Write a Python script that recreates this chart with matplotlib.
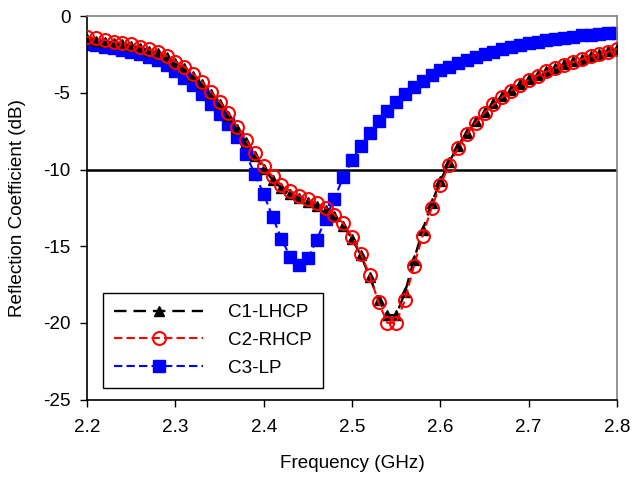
import numpy as np
import matplotlib
matplotlib.use("Agg")
import matplotlib.pyplot as plt

freq = [round(2.20 + 0.01 * i, 2) for i in range(61)]

c1_lhcp = [-1.5, -1.58, -1.66, -1.75, -1.83, -1.93, -2.07, -2.24, -2.42, -2.68,
           -3.05, -3.4, -3.88, -4.4, -5.05, -5.72, -6.5, -7.35, -8.2, -9.1,
           -9.95, -10.65, -11.2, -11.6, -11.85, -12.1, -12.35, -12.65, -13.05, -13.65,
           -14.5, -15.6, -17.0, -18.5, -19.5, -19.5, -18.0, -15.9, -13.95, -12.2,
           -10.75, -9.5, -8.45, -7.58, -6.85, -6.22, -5.68, -5.2, -4.8, -4.42,
           -4.1, -3.82, -3.56, -3.34, -3.13, -2.94, -2.76, -2.59, -2.43, -2.27, -2.1]

c2_rhcp = [-1.33, -1.44, -1.55, -1.66, -1.72, -1.83, -1.98, -2.15, -2.31, -2.59,
           -2.96, -3.29, -3.76, -4.27, -4.92, -5.57, -6.33, -7.2, -8.07, -8.94,
           -9.75, -10.45, -11.0, -11.4, -11.7, -11.95, -12.2, -12.5, -12.95, -13.5,
           -14.4, -15.5, -16.9, -18.65, -20.0, -20.0, -18.5, -16.3, -14.3, -12.5,
           -11.0, -9.7, -8.6, -7.7, -6.95, -6.3, -5.75, -5.27, -4.85, -4.47,
           -4.15, -3.87, -3.6, -3.38, -3.17, -2.98, -2.8, -2.62, -2.46, -2.3, -2.13]

c3_lp = [-1.8, -1.88, -1.97, -2.07, -2.18, -2.31, -2.46, -2.65, -2.88, -3.2,
         -3.6, -4.0, -4.5, -5.1, -5.7, -6.35, -7.0, -7.85, -9.0, -10.3,
         -11.6, -13.07, -14.5, -15.7, -16.2, -15.8, -14.6, -13.2, -11.9, -10.5,
         -9.4, -8.45, -7.6, -6.83, -6.16, -5.57, -5.07, -4.6, -4.2, -3.83,
         -3.52, -3.29, -3.07, -2.85, -2.65, -2.47, -2.31, -2.16, -2.02, -1.89,
         -1.77, -1.66, -1.56, -1.47, -1.39, -1.32, -1.25, -1.19, -1.14, -1.1, -1.06]

labels = ["C1-LHCP", "C2-RHCP", "C3-LP"]
xticks = [2.2, 2.3, 2.4, 2.5, 2.6, 2.7, 2.8]
yticks = [0, -5, -10, -15, -20, -25]

plt.rcParams['font.family'] = ['Liberation Sans', 'DejaVu Sans']
plt.rcParams['lines.scale_dashes'] = False

FS = 13.6

fig = plt.figure(figsize=(6.32, 4.8), dpi=100)
ax = fig.add_axes([0.1377, 0.1677, 0.8386, 0.7983])

ax.axhline(-10, color='black', lw=1.8, zorder=1)

ax.plot(freq, c3_lp, color='#0000ff', lw=1.5, linestyle=(0, (6, 3)),
        marker='s', ms=8.3, mfc='#0000ff', mec='#0000ff', label=labels[2], zorder=2)
ax.plot(freq, c1_lhcp, color='black', lw=1.7, linestyle=(0, (9, 5)),
        marker='^', ms=7.8, mfc='black', mec='black', label=labels[0], zorder=3)
ax.plot(freq, c2_rhcp, color='#ff0000', lw=1.5, linestyle=(0, (6, 3)),
        marker='o', ms=9.3, mfc='none', mec='#ff0000', mew=1.5, label=labels[1], zorder=4)

ax.set_xlim(2.2, 2.8)
ax.set_ylim(-25, 0)
ax.set_xticks(xticks)
ax.set_xticklabels([f"{t:.1f}" for t in xticks])
ax.set_yticks(yticks)
ax.set_yticklabels([str(t) for t in yticks])
ax.tick_params(axis='both', direction='out', labelsize=FS, colors='black', width=1)
ax.tick_params(axis='y', length=5, pad=7)
ax.tick_params(axis='x', length=5, pad=9)

for s in ['top', 'right']:
    ax.spines[s].set_color('#808080')
    ax.spines[s].set_linewidth(1.2)
for s in ['left', 'bottom']:
    ax.spines[s].set_color('black')
    ax.spines[s].set_linewidth(1.2)

ax.set_xlabel("Frequency (GHz)", fontsize=FS, labelpad=14)
ax.set_ylabel("Reflection Coefficient (dB)", fontsize=FS, labelpad=12)

h, l = ax.get_legend_handles_labels()
order = [1, 2, 0]
leg = ax.legend([h[i] for i in order], [l[i] for i in order],
                loc='lower left', bbox_to_anchor=(0.03, 0.03), borderaxespad=0,
                fontsize=FS, handlelength=4.7, handletextpad=1.3, labelspacing=0.55,
                fancybox=False, framealpha=1, edgecolor='black', borderpad=0.6,
                markerscale=1.0)
leg.get_frame().set_linewidth(1.0)

fig.savefig("out.png", dpi=100)
